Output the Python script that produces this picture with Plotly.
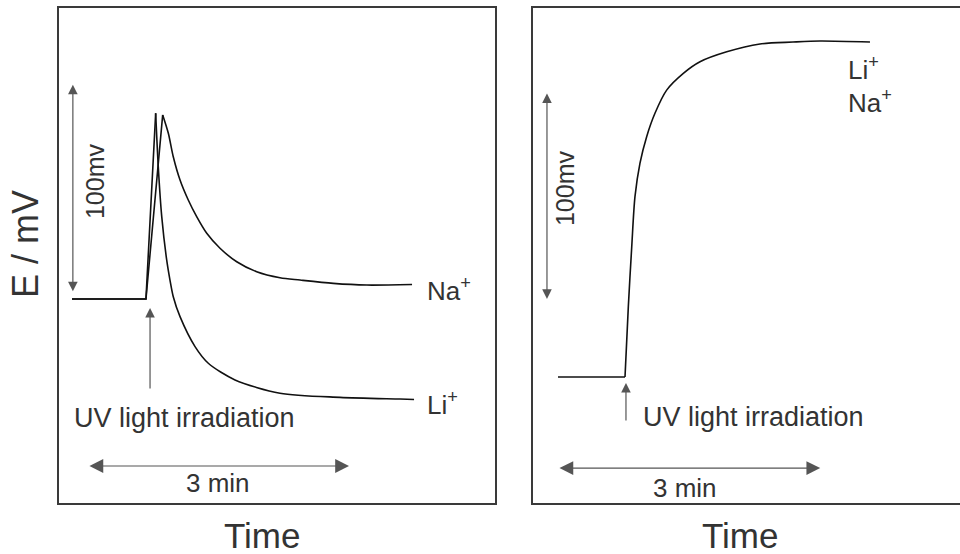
import plotly.graph_objects as go

# ---- data (time in min, potential in mV relative to baseline) ----
li_t  = [0.15, 1.003, 1.115, 1.145, 1.185, 1.242, 1.280, 1.318, 1.396, 1.569, 1.722, 2.030, 2.549, 3.241, 3.933, 4.095]
li_mv = [0.0, 0.0, 89.3, 63.6, 39.6, 18.8, 9.1, 1.1, -8.5, -22.9, -30.9, -38.9, -45.3, -47.3, -48.1, -48.3]

na_t  = [0.15, 1.003, 1.196, 1.261, 1.318, 1.396, 1.491, 1.588, 1.704, 1.857, 2.050, 2.280, 2.549, 2.780, 3.164, 3.549, 4.072]
na_mv = [0.0, 0.0, 88.5, 79.7, 68.4, 57.2, 47.6, 39.6, 31.6, 24.4, 17.9, 13.1, 10.2, 9.1, 7.5, 6.7, 7.0]

both_t  = [0.286, 1.02, 1.054, 1.092, 1.131, 1.168, 1.225, 1.302, 1.397, 1.531, 1.722, 1.913, 2.219, 2.600, 2.978, 3.288, 3.860]
both_mv = [0.0, 0.0, 0.0, 34.0, 62.9, 87.1, 103.2, 116.1, 127.4, 138.6, 146.7, 152.3, 157.1, 160.9, 161.8, 162.3, 161.8]

FONT = "Liberation Sans"
TXT = "#333333"
LINE = "#111111"
FRAME = "#3a3a3a"
ARROW = "#555555"

fig = go.Figure()

def add_curve(t, v, split, xa, ya):
    fig.add_trace(go.Scatter(x=t[:split + 1], y=v[:split + 1], mode="lines",
                             line=dict(color=LINE, width=1.6), xaxis=xa, yaxis=ya,
                             showlegend=False, hoverinfo="skip"))
    fig.add_trace(go.Scatter(x=t[split:], y=v[split:], mode="lines",
                             line=dict(color=LINE, width=1.6, shape="spline", smoothing=0.8),
                             xaxis=xa, yaxis=ya, showlegend=False, hoverinfo="skip"))

add_curve(na_t, na_mv, 2, "x", "y")
add_curve(li_t, li_mv, 2, "x", "y")
add_curve(both_t, both_mv, 2, "x2", "y2")

ann = []

def arrow(x0, y0, x1, y1, xr, yr, both=False, size=1.6):
    ann.append(dict(x=x1, y=y1, ax=x0, ay=y0, xref=xr, yref=yr, axref=xr, ayref=yr,
                    text="", showarrow=True, arrowhead=2, arrowsize=size, arrowwidth=1.2,
                    arrowcolor=ARROW, arrowside="end+start" if both else "end",
                    startarrowhead=2, startarrowsize=size))

def label(x, y, s, xr, yr, size=26, xanchor="center", angle=0):
    ann.append(dict(x=x, y=y, xref=xr, yref=yr, text=s, showarrow=False, xanchor=xanchor,
                    yanchor="middle", textangle=angle,
                    font=dict(family=FONT, size=size, color=TXT)))

# left panel
arrow(0.16, 3, 0.16, 103, "x", "y", both=True)
label(0.415, 56.7, "100mv", "x", "y", size=25, angle=-90)
arrow(1.05, -43.8, 1.05, -4.3, "x", "y")
label(0.15, -57.2, "UV light irradiation", "x", "y", size=27, xanchor="left")
arrow(0.334, -80.3, 3.345, -80.3, "x", "y", both=True, size=2.3)
label(1.83, -88.5, "3 min", "x", "y")
label(4.22, 4.8, "Na<sup>+</sup>", "x", "y", xanchor="left")
label(4.22, -50, "Li<sup>+</sup>", "x", "y", xanchor="left")

# right panel
arrow(0.16, 37, 0.16, 137, "x2", "y2", both=True)
label(0.367, 91.3, "100mv", "x2", "y2", size=25, angle=-90)
arrow(1.065, -21.7, 1.065, -2.9, "x2", "y2")
label(1.24, -19.4, "UV light irradiation", "x2", "y2", size=27, xanchor="left")
arrow(0.286, -44.0, 3.29, -44.0, "x2", "y2", both=True, size=2.3)
label(1.74, -53.6, "3 min", "x2", "y2")
label(3.59, 149.0, "Li<sup>+</sup>", "x2", "y2", xanchor="left")
label(3.59, 133.3, "Na<sup>+</sup>", "x2", "y2", xanchor="left")

# axis titles
label(0.027, 0.5596, "E / mV", "paper", "paper", size=36, angle=-90)
label(0.273, 0.033, "Time", "paper", "paper", size=35)
label(0.771, 0.033, "Time", "paper", "paper", size=35)

ax_common = dict(showgrid=False, zeroline=False, showticklabels=False, ticks="",
                 showline=True, linecolor=FRAME, linewidth=2)

W, H = 960, 554
ytop, ybot = 1 - 8 / H, 1 - 503 / H

fig.update_layout(
    width=W, height=H,
    margin=dict(l=0, r=0, t=0, b=0),
    paper_bgcolor="white", plot_bgcolor="white",
    showlegend=False,
    xaxis=dict(domain=[59 / W, 495 / W], range=[0, 436 / 86.7], mirror=True, anchor="y", **ax_common),
    yaxis=dict(domain=[ybot, ytop], range=[(299 - 503) / 2.08, (299 - 8) / 2.08], mirror=True, anchor="x", **ax_common),
    xaxis2=dict(domain=[533 / W, 1.0], range=[0, (960 - 533) / 87.3], mirror=True, anchor="y2", **ax_common),
    yaxis2=dict(domain=[ybot, ytop], range=[(377 - 503) / 2.07, (377 - 8) / 2.07], mirror=False, anchor="x2", **ax_common),
    annotations=ann,
)

fig.write_html("out.html", config={"displayModeBar": False},
               post_script="document.body.style.margin='0';document.body.style.overflow='hidden';")
